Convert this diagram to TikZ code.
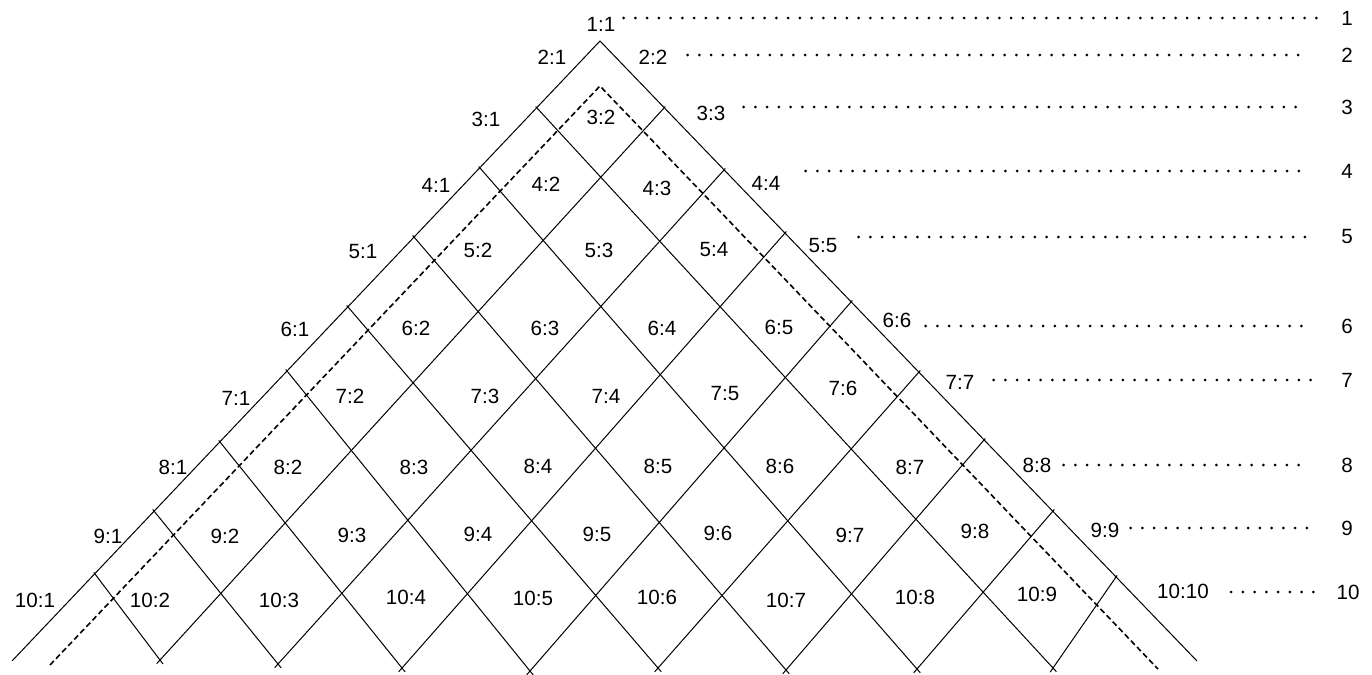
\documentclass[tikz,border=0pt]{standalone}
\usepackage{fontspec}
\setmainfont{Liberation Sans}

\tikzset{
  grid line/.style={line width=0.5pt},
  cut line/.style={line width=0.8pt, dash pattern=on 2.8pt off 1.6pt},
  leader/.style={line width=1.5pt, line cap=round, dash pattern=on 0pt off 5.87pt},
  pair/.style={inner sep=0pt, font=\fontsize{10.3}{12}\selectfont},
}

\begin{document}
\begin{tikzpicture}[x=0.5pt,y=-0.5pt]
\useasboundingbox (0,0) rectangle (1372,675);

% Outer edges of the triangle
\coordinate (top) at (600,41);
\coordinate (lend) at (12,661);
\coordinate (rend) at (1197,661);
\draw[grid line] (lend) -- (top) -- (rend);

% Points on the left edge
\coordinate (L1) at (537,108);
\coordinate (L2) at (480,168);
\coordinate (L3) at (414,237);
\coordinate (L4) at (348,307);
\coordinate (L5) at (287,371);
\coordinate (L6) at (220,442);
\coordinate (L7) at (154,511);
\coordinate (L8) at (95,574);

% Points on the right edge
\coordinate (R1) at (664,108);
\coordinate (R2) at (724,170);
\coordinate (R3) at (785,233);
\coordinate (R4) at (851,302);
\coordinate (R5) at (919,372);
\coordinate (R6) at (984,440);
\coordinate (R7) at (1053,511);
\coordinate (R8) at (1116,577);

% Bottom corners of the last row
\coordinate (B2) at (160,660);
\coordinate (B3) at (278,664);
\coordinate (B4) at (402,668);
\coordinate (B5) at (530,671);
\coordinate (B6) at (658,668);
\coordinate (B7) at (786,670);
\coordinate (B8) at (917,669);
\coordinate (B9) at (1053,668);

% Grid lines going down-right and down-left
\foreach \b/\j in {1/9,2/8,3/7,4/6,5/5,6/4,7/3,8/2}
  \draw[grid line,shorten <=-1pt,shorten >=-2.5pt] (L\b) -- (B\j);
\foreach \a/\j in {1/2,2/3,3/4,4/5,5/6,6/7,7/8,8/9}
  \draw[grid line,shorten <=-1pt,shorten >=-2.5pt] (R\a) -- (B\j);

% Dashed inner border
\coordinate (dtop) at (600,86);
\coordinate (dl) at (50,665);
\coordinate (dr) at (1158,669);
\draw[cut line] (dl) -- (dtop) -- (dr);

% Cell labels, row by row
\foreach \j/\x/\y in {1/601/24}
  \node[pair] (c1-\j) at (\x,\y) {1:\j};
\foreach \j/\x/\y in {1/552/57,2/653/57}
  \node[pair] (c2-\j) at (\x,\y) {2:\j};
\foreach \j/\x/\y in {1/486/119,2/601/117,3/711/113}
  \node[pair] (c3-\j) at (\x,\y) {3:\j};
\foreach \j/\x/\y in {1/436/185,2/546/184,3/657/188,4/766/183}
  \node[pair] (c4-\j) at (\x,\y) {4:\j};
\foreach \j/\x/\y in {1/363/252,2/478/250,3/599/250,4/714/250,5/823/246}
  \node[pair] (c5-\j) at (\x,\y) {5:\j};
\foreach \j/\x/\y in {1/295/329,2/416/328,3/545/328,4/662/328,5/779/327,6/897/320}
  \node[pair] (c6-\j) at (\x,\y) {6:\j};
\foreach \j/\x/\y in {1/236/398,2/350/396,3/485/396,4/606/396,5/725/394,6/843/388,7/960/382}
  \node[pair] (c7-\j) at (\x,\y) {7:\j};
\foreach \j/\x/\y in {1/173/467,2/288/467,3/414/467,4/538/466,5/658/466,6/780/466,7/910/467,8/1037/465}
  \node[pair] (c8-\j) at (\x,\y) {8:\j};
\foreach \j/\x/\y in {1/108/536,2/225/536,3/352/535,4/478/534,5/597/534,6/718/533,7/850/535,8/975/531,9/1105/530}
  \node[pair] (c9-\j) at (\x,\y) {9:\j};
\foreach \j/\x/\y in {1/35/600,2/150/600,3/279/600,4/406/597,5/533/598,6/657/597,7/786/600,8/915/597,9/1037/594,10/1183/591}
  \node[pair] (c10-\j) at (\x,\y) {10:\j};

% Row numbers on the right
\foreach \i/\y in {1/18,2/55,3/107,4/171,5/237,6/326,7/380,8/465,9/528}
  \node[pair] (n\i) at (1347,\y) {\i};
\node[pair] (n10) at (1348,592) {10};

% Dotted leaders from the last label of each row
\foreach \i/\s/\t in {1/4/12.2,2/10/16.7,3/9/17,4/12.5/15.7,5/10.5/13.2,6/7/14.2,7/9.5/14.7,8/6/15.7,9/5.5/12.2,10/11/7}
  \draw[leader,shorten <=\s pt,shorten >=\t pt] (n\i.west -| c\i-\i.east) -- (n\i.west);

\end{tikzpicture}
\end{document}
